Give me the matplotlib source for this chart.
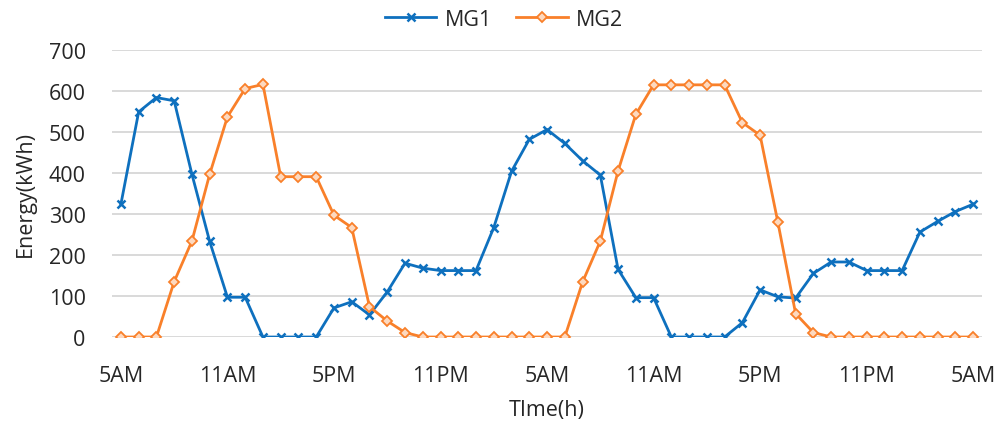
import numpy as np
import matplotlib
matplotlib.use("Agg")
import matplotlib.pyplot as plt

plt.rcParams['font.family'] = ['Open Sans', 'DejaVu Sans']

# hourly energy per microgrid, 5AM day 1 through 5AM day 3
mg1 = [324, 549, 584, 576, 397, 233, 97, 97, 0, 0, 0, 0, 71, 86, 54, 110,
       180, 168, 162, 162, 162, 267, 404, 482, 506, 472, 430, 395, 165, 96, 96,
       0, 0, 0, 0, 35, 115, 98, 95, 155, 183, 183, 162, 162, 162, 256, 282, 306, 324]
mg2 = [0, 0, 0, 135, 234, 397, 537, 606, 616, 391, 391, 391, 297, 267, 74, 39,
       11, 0, 0, 0, 0, 0, 0, 0, 0, 0, 134, 234, 405, 543, 615,
       615, 615, 615, 615, 523, 492, 280, 57, 11, 0, 0, 0, 0, 0, 0, 0, 0, 0]
tick_labels = ['5AM', '11AM', '5PM', '11PM', '5AM', '11AM', '5PM', '11PM', '5AM']

hours = np.arange(len(mg1))

fig = plt.figure(figsize=(10.02, 4.27), dpi=100)
ax = fig.add_axes([0.1118, 0.2084, 0.8683, 0.6722])

blue = '#0E70BE'
orange = '#F9802A'
ax.plot(hours, mg1, color=blue, lw=2.0, marker='x', ms=6, mew=1.8, label='MG1')
ax.plot(hours, mg2, color=orange, lw=2.0, marker='D', ms=5, mew=1.3,
        mfc='#FDD9BF', label='MG2')

ax.set_xlim(-0.5, len(mg1) - 0.5)
ax.set_ylim(0, 700)
ax.set_yticks(range(0, 701, 100))
ax.set_xticks(hours[::6])
ax.set_xticklabels(tick_labels)
ax.grid(axis='y', color='#D9D9D9', lw=1.4)
ax.set_axisbelow(True)
for s in ax.spines.values():
    s.set_visible(False)
ax.tick_params(axis='x', length=0, pad=20, labelsize=15.5, colors='#262626')
ax.tick_params(axis='y', length=0, pad=19, labelsize=15.5, colors='#262626')

ax.set_ylabel('Energy(kWh)', fontsize=15.5, color='#262626')
ax.yaxis.set_label_coords(-0.088, 0.5)
ax.set_xlabel('TIme(h)', fontsize=15.5, color='#262626')
ax.xaxis.set_label_coords(0.5, -0.215)

fig.legend(loc='center', bbox_to_anchor=(504 / 1002, 1 - 20 / 427), ncol=2,
           frameon=False, fontsize=15.5, handlelength=2.4, handletextpad=0.4,
           columnspacing=1.1, labelcolor='#262626')

fig.savefig('out.png', dpi=100)
